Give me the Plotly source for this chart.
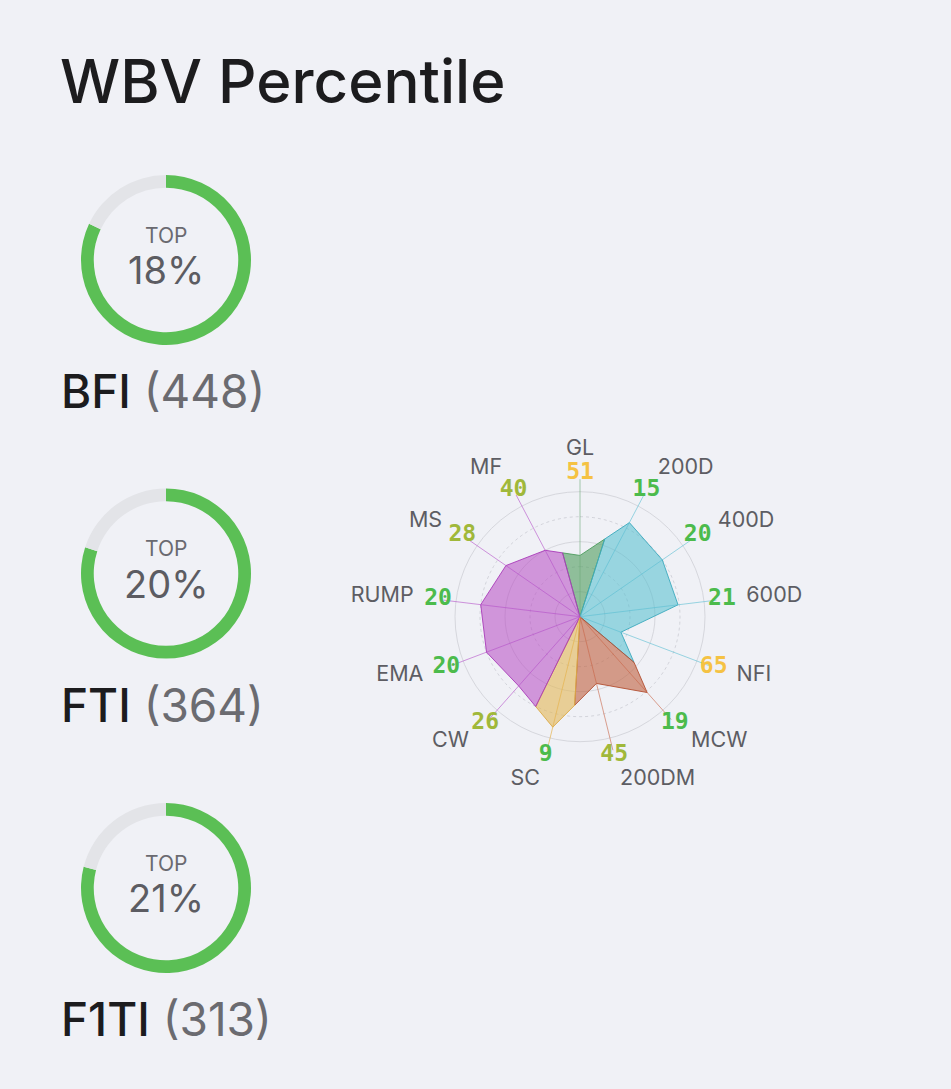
import numpy as np
import plotly.graph_objects as go

W, H = 951, 1089

# ---------------- data ----------------
title_text = "WBV Percentile"
index_names = ["BFI", "FTI", "F1TI"]
index_counts = [448, 364, 313]
index_top_pct = [18, 20, 21]

traits = ["GL", "200D", "400D", "600D", "NFI", "MCW", "200DM",
          "SC", "CW", "EMA", "RUMP", "MS", "MF"]
trait_pct = [51, 15, 20, 21, 65, 19, 45, 9, 26, 20, 20, 28, 40]
trait_group = ["fert", "growth", "growth", "growth", "growth", "maternal", "maternal",
               "sc", "carcass", "carcass", "carcass", "carcass", "carcass"]

# ---------------- styles ----------------
BG = "#f0f1f6"
FONT = "Inter"
RING_GREEN = "#5bbf55"
RING_GREY = "#e3e4e8"
group_fill = {
    "fert": "rgba(78,156,94,0.6)",
    "growth": "rgba(80,190,206,0.55)",
    "maternal": "rgba(192,96,63,0.6)",
    "sc": "rgba(227,183,86,0.6)",
    "carcass": "rgba(182,73,194,0.55)",
}
group_line = {
    "fert": "rgba(78,156,94,0.9)",
    "growth": "rgba(60,170,190,0.9)",
    "maternal": "rgba(180,80,50,0.9)",
    "sc": "rgba(220,170,70,0.9)",
    "carcass": "rgba(170,60,185,0.9)",
}
group_spoke = {
    "fert": "rgba(110,170,120,0.6)",
    "growth": "rgba(90,190,210,0.6)",
    "maternal": "rgba(200,100,70,0.6)",
    "sc": "rgba(230,180,80,0.7)",
    "carcass": "rgba(180,80,200,0.6)",
}


def pct_color(p):
    if p <= 25:
        return "#4cbb4c"
    if p <= 50:
        return "#a0b83a"
    return "#f5c243"


def px_x(x):
    return x / W


def px_y(y):
    return 1 - y / H


fig = go.Figure()
annotations = []

# ---------------- donut rings ----------------
ring_cx = 166
ring_cy = [260, 573.5, 888]
ring_r = 85
for name, cnt, top, cy in zip(index_names, index_counts, index_top_pct, ring_cy):
    fig.add_trace(go.Pie(
        values=[100 - top, top],
        marker=dict(colors=[RING_GREEN, RING_GREY], line=dict(width=0)),
        hole=0.85, sort=False, direction="clockwise", rotation=0,
        textinfo="none", hoverinfo="skip", showlegend=False,
        domain=dict(x=[px_x(ring_cx - ring_r), px_x(ring_cx + ring_r)],
                    y=[px_y(cy + ring_r), px_y(cy - ring_r)]),
    ))
    annotations.append(dict(x=px_x(ring_cx), y=px_y(cy - 25), xref="paper", yref="paper",
                            text="TOP", showarrow=False, xanchor="center", yanchor="middle",
                            font=dict(family=FONT, size=21, color="#6a6a70")))
    annotations.append(dict(x=px_x(ring_cx), y=px_y(cy + 10), xref="paper", yref="paper",
                            text=f"{top}%", showarrow=False, xanchor="center", yanchor="middle",
                            font=dict(family=FONT, size=38, color="#5c5c62")))
    annotations.append(dict(x=px_x(59), y=px_y(cy + 131), xref="paper", yref="paper",
                            text=f"<span style='color:#1c1c1e;font-weight:500'>{name}</span> ({cnt})",
                            showarrow=False, xanchor="left", yanchor="middle",
                            font=dict(family=FONT, size=46, color="#6b6b70")))

# title
annotations.append(dict(x=px_x(58), y=px_y(81), xref="paper", yref="paper",
                        text=title_text, showarrow=False, xanchor="left", yanchor="middle",
                        font=dict(family=FONT, size=60, color="#1c1c1e", weight=500)))

# ---------------- radar ----------------
n = len(traits)
step = 360.0 / n
theta = [i * step for i in range(n)]
radius = [100 - p for p in trait_pct]

# cartesian positions (for edge midpoints of the colored segments)
xy = [(r * np.sin(np.radians(t)), r * np.cos(np.radians(t))) for r, t in zip(radius, theta)]


def to_polar(x, y):
    return float(np.hypot(x, y)), float(np.degrees(np.arctan2(x, y)) % 360)


def midpoint(i, j):
    return to_polar((xy[i][0] + xy[j][0]) / 2, (xy[i][1] + xy[j][1]) / 2)


# dotted grid circles
circ_t = list(np.linspace(0, 360, 181))
for rr in [40, 80]:
    fig.add_trace(go.Scatterpolar(r=[rr] * len(circ_t), theta=circ_t, mode="lines",
                                  line=dict(color="#d2d3da", width=1, dash="dot"),
                                  hoverinfo="skip", showlegend=False))

# group segments
groups = []
for i, g in enumerate(trait_group):
    if groups and groups[-1][0] == g:
        groups[-1][1].append(i)
    else:
        groups.append([g, [i]])

for g, idxs in groups:
    first, last = idxs[0], idxs[-1]
    m0 = midpoint((first - 1) % n, first)
    m1 = midpoint(last, (last + 1) % n)
    rs = [0, m0[0]] + [radius[i] for i in idxs] + [m1[0], 0]
    ts = [m0[1], m0[1]] + [theta[i] for i in idxs] + [m1[1], m1[1]]
    fig.add_trace(go.Scatterpolar(r=rs, theta=ts, mode="lines", fill="toself",
                                  fillcolor=group_fill[g],
                                  line=dict(color=group_line[g], width=1),
                                  hoverinfo="skip", showlegend=False))

# spokes
for i in range(n):
    fig.add_trace(go.Scatterpolar(r=[0, 110], theta=[theta[i], theta[i]], mode="lines",
                                  line=dict(color=group_spoke[trait_group[i]], width=1),
                                  hoverinfo="skip", showlegend=False))

# value labels
fig.add_trace(go.Scatterpolar(r=[114.4] * n, theta=theta, mode="text",
                              text=[str(p) for p in trait_pct],
                              textfont=dict(family="DejaVu Sans Mono", size=23,
                                            color=[pct_color(p) for p in trait_pct],
                                            weight="bold"),
                              textposition="middle center", cliponaxis=False,
                              hoverinfo="skip", showlegend=False))

# name labels
pos = []
for t in theta:
    if abs(t) < 1e-6 or abs(t - 180) < 1e-6:
        pos.append("middle center")
    elif t < 180:
        pos.append("middle right")
    else:
        pos.append("middle left")
name_r = [133.5 if p == "middle center" else 134 for p in pos]
fig.add_trace(go.Scatterpolar(r=name_r, theta=theta, mode="text", text=traits,
                              textfont=dict(family=FONT, size=21.5, color="#5d5d63"),
                              textposition=pos, cliponaxis=False,
                              hoverinfo="skip", showlegend=False))

RMAX = 145
cx, cy = 580, 616.7
pr = 125 * RMAX / 100
fig.update_layout(
    width=W, height=H,
    margin=dict(l=0, r=0, t=0, b=0),
    paper_bgcolor=BG, plot_bgcolor=BG,
    showlegend=False,
    annotations=annotations,
    polar=dict(
        domain=dict(x=[px_x(cx - pr), px_x(cx + pr)], y=[px_y(cy + pr), px_y(cy - pr)]),
        bgcolor="rgba(0,0,0,0)",
        radialaxis=dict(range=[0, RMAX], tickvals=[20, 60, 100], showticklabels=False,
                        showline=False, ticks="", gridcolor="#d6d7dd", gridwidth=1),
        angularaxis=dict(direction="clockwise", rotation=90, showticklabels=False,
                         showline=False, ticks="", showgrid=False),
    ),
)

fig.write_html("out.html", config=dict(displayModeBar=False))
